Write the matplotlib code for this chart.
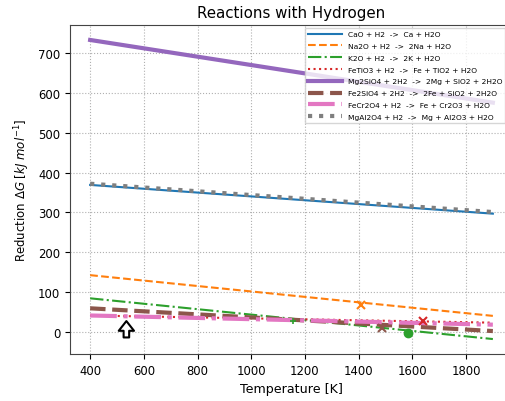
import matplotlib
matplotlib.use("Agg")
import matplotlib.pyplot as plt
import numpy as np

T = [400, 1900]
labels = [
    "CaO + H2  ->  Ca + H2O",
    "Na2O + H2  ->  2Na + H2O",
    "K2O + H2  ->  2K + H2O",
    "FeTiO3 + H2  ->  Fe + TiO2 + H2O",
    "Mg2SiO4 + 2H2  ->  2Mg + SiO2 + 2H2O",
    "Fe2SiO4 + 2H2  ->  2Fe + SiO2 + 2H2O",
    "FeCr2O4 + H2  ->  Fe + Cr2O3 + H2O",
    "MgAl2O4 + H2  ->  Mg + Al2O3 + H2O",
]
CaO = [369, 297]
Na2O = [143, 41]
K2O = [85, -17]
FeTiO3 = [42, 24]
Mg2SiO4 = [732, 575]
Fe2SiO4 = [60, 3]
FeCr2O4 = [42, 19]
MgAl2O4 = [372, 301]
series = [CaO, Na2O, K2O, FeTiO3, Mg2SiO4, Fe2SiO4, FeCr2O4, MgAl2O4]

# phase-change markers (T, dG)
na_mark = (1410, 68)
k_mark_dot = (1584, -1)
k_mark_plus = (1155, 27)
fe2_mark = (1487, 11)
feti_mark = (1640, 28)
arrow_T = 535
arrow_from, arrow_to = -13, 28

colors = ['#1f77b4', '#ff7f0e', '#2ca02c', '#d62728', '#9467bd', '#8c564b', '#e377c2', '#7f7f7f']
styles = ['-', '--', '-.', ':', '-', '--', '-.', ':']
widths = [1.5, 1.5, 1.5, 1.5, 3.0, 3.0, 3.0, 3.0]

fig = plt.figure(figsize=(5.06, 4.02), dpi=100)
ax = fig.add_axes([70/506, 1-355/402, (513-70)/506, (355-26)/402])

for s, lab, c, ls, lw in zip(series, labels, colors, styles, widths):
    ax.plot(T, s, color=c, linestyle=ls, linewidth=lw, label=lab)

ax.plot(*na_mark, marker='x', color=colors[1], ms=6, mew=1.5)
ax.plot(*k_mark_dot, marker='o', color=colors[2], ms=6)
ax.plot(*k_mark_plus, marker='+', color=colors[2], ms=5, mew=1.2)
ax.plot(*fe2_mark, marker='x', color=colors[5], ms=6, mew=1.5)
ax.plot(*feti_mark, marker='x', color=colors[3], ms=6, mew=1.5)

ax.annotate('', xy=(arrow_T, arrow_to), xytext=(arrow_T, arrow_from),
            arrowprops=dict(facecolor='white', edgecolor='black', width=4,
                            headwidth=11, headlength=7, shrink=0, lw=1.5))

ax.grid(True, linestyle=':', color='#b0b0b0', linewidth=0.8)
ax.set_xticks([400, 600, 800, 1000, 1200, 1400, 1600, 1800])
ax.tick_params(labelsize=8.4)
ax.set_xlabel('Temperature [K]', fontsize=9.1)
ax.set_ylabel(r'Reduction $\Delta G$ $[kJ\ mol^{-1}]$', fontsize=8.5)
ax.set_title('Reactions with Hydrogen', fontsize=10.8)
for sp in ax.spines.values():
    sp.set_color('#444444')
ax.legend(loc='upper right', fontsize=5.4, handlelength=4.5, labelspacing=0.74,
          handletextpad=0.85, borderaxespad=0, borderpad=0.4, fancybox=False,
          framealpha=0.8,
          bbox_to_anchor=(505.5/506, 1-29/402), bbox_transform=fig.transFigure)

fig.savefig('out.png', dpi=100)
